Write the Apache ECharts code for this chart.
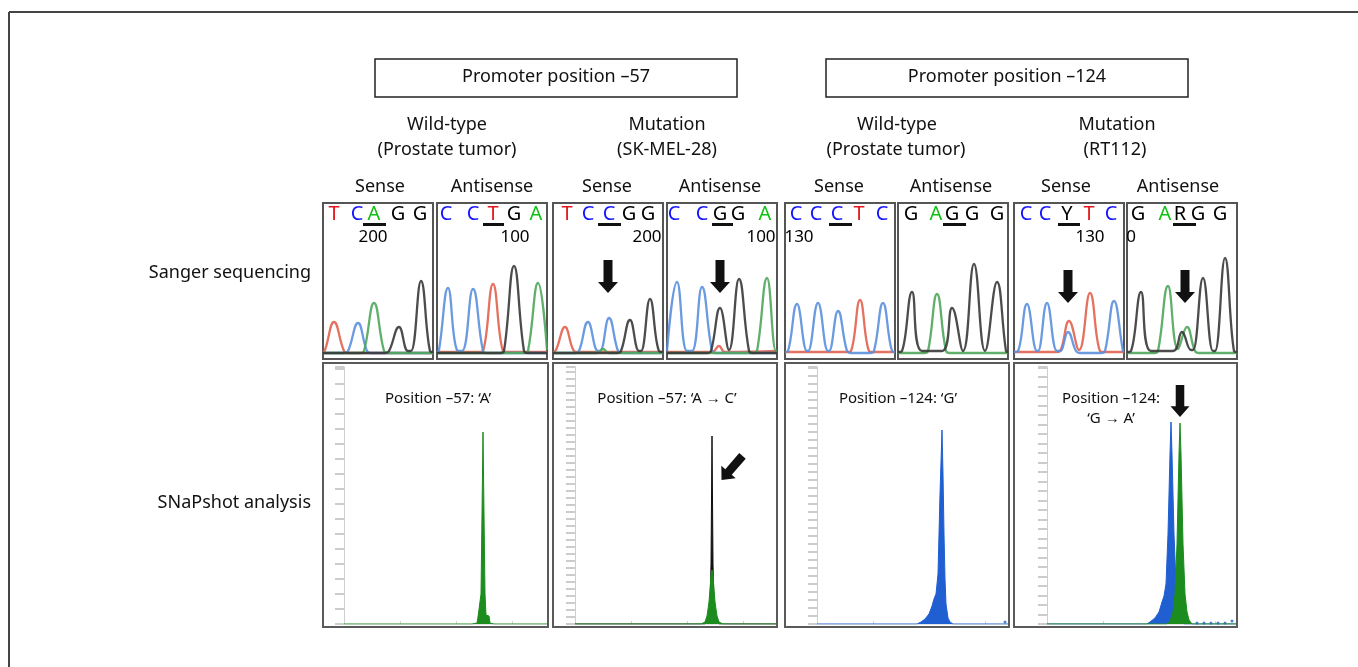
<!DOCTYPE html>
<html>
<head>
<meta charset="UTF-8">
<title>Promoter positions -57 / -124: Sanger and SNaPshot</title>
<script src="https://cdn.jsdelivr.net/npm/echarts@6/dist/echarts.min.js"></script>
<style>
html, body { margin: 0; padding: 0; background: #fff; }
#main { width: 1358px; height: 667px; }
</style>
</head>
<body>
<div id="main"></div>
<script>
// ---- Sanger panels (8, left to right): base calls and their positions
var baseCalls = [
  ['T','C','A','G','G'], ['C','C','T','G','A'],
  ['T','C','C','G','G'], ['C','C','G','G','A'],
  ['C','C','C','T','C'], ['G','A','G','G','G'],
  ['C','C','Y','T','C'], ['G','A','R','G','G']
];
var basePos = [
  [11,34,51,75,97], [9,36,56,77,99],
  [14,35,56,76,95], [7,35,53,71,98],
  [11,31,52,74,97], [13,38,54,74,99],
  [12,31,53,75,97], [11,38,53,71,93]
];
// underlined (queried) base: start / end of the bar
var underline = [[40,63],[46,67],[45,68],[45,66],[44,67],[45,68],[44,66],[46,69]];
// scale numbers printed by the sequencer software
var scaleText = ['200','100','200','100','130',null,'130','0'];
var scalePos  = [50, 78, 94, 94, 14, null, 76, 4];
// arrows marking the mutated base  [panel, x, y]
var sangerArrows = [[2,55,77.5],[3,53,77.5],[6,54,67.5],[7,58,67.5]];

// chromatogram traces per dye, one list of [x, intensity] per panel
var traceRed = [
  [[0,2],[2,4],[11,32],[21,3],[25,1],[110,1]],
  [[0,2],[42,2],[46,3],[56,70],[66,3],[70,2],[110,2]],
  [[0,2],[3,4],[12,27],[21,3],[25,2],[110,2]],
  [[0,2],[45,2],[52,8],[58,2],[110,3]],
  [[0,2],[62,2],[66,3],[75,54],[84,3],[88,2],[110,2]],
  null,
  [[0,2],[42,2],[46,3],[55,33],[65,4],[76,61],[86,3],[90,2],[110,2]],
  null
];
var traceBlue = [
  [[0,1],[21,1],[25,3],[35,31],[44,3],[48,1],[110,1]],
  [[0,2],[2,4],[11,66],[20,4],[25,3],[36,65],[46,3],[50,1],[110,1]],
  [[0,1],[22,1],[26,3],[35,32],[45,3],[47,3],[56,36],[65,3],[69,1],[110,1]],
  [[0,3],[10,72],[20,3],[25,3],[35,67],[45,3],[49,1],[110,1]],
  [[0,2],[3,3],[12,50],[22,3],[23,3],[33,51],[43,3],[44,3],[53,43],[62,3],[66,1],[85,1],[89,3],[98,51],[107,3],[110,2]],
  null,
  [[0,2],[4,3],[13,50],[23,3],[24,3],[33,51],[43,3],[46,3],[54,22],[62,3],[66,1],[87,1],[91,3],[100,53],[109,3],[110,2]],
  null
];
var traceGreen = [
  [[0,1],[37,1],[41,3],[51,51],[61,3],[65,1],[110,1]],
  [[0,1],[87,1],[91,3],[101,71],[110,4]],
  [[0,1],[44,1],[50,5],[56,1],[110,1]],
  [[0,1],[86,1],[90,3],[100,76],[109,3],[110,3]],
  null,
  [[0,1],[26,1],[30,3],[39,60],[48,3],[52,1],[110,1]],
  null,
  [[0,1],[27,1],[31,3],[41,68],[51,5],[60,27],[68,3],[72,1],[110,1]]
];
var traceBlack = [
  [[0,1],[62,1],[66,3],[76,27],[85,3],[88,3],[98,73],[107,3],[110,2]],
  [[0,1],[63,1],[67,3],[77,88],[87,3],[91,1],[110,1]],
  [[0,1],[64,1],[68,3],[77,34],[86,3],[88,3],[97,55],[106,3],[110,2]],
  [[0,1],[40,1],[44,3],[53,46],[62,4],[72,75],[82,3],[86,1],[110,1]],
  null,
  [[0,2],[4,3],[14,62],[24,3],[44,3],[54,46],[65,3],[76,90],[87,3],[99,72],[108,3],[110,2]],
  null,
  [[0,2],[4,3],[14,62],[24,3],[46,3],[55,22],[64,4],[66,4],[76,76],[86,3],[88,3],[98,96],[107,3],[110,2]]
];

// ---- SNaPshot panels (4): electropherogram peaks
var snapTitles = [['Position \u201357: \u2018A\u2019'], ['Position \u201357: \u2018A \u2192 C\u2019'],
                  ['Position \u2013124: \u2018G\u2019'], ['Position \u2013124:', '\u2018G \u2192 A\u2019']];
var snapGreen = [
  [[0,0],[128,0],[133,1],[134,7],[136,9],[137,30],[138,110],[139,192],[140,110],[141,30],[142,9],[145,8],[146,1],[150,0],[204,0]],
  [[0,0],[126,0],[130,2],[132,8],[134,22],[136,48],[137,54],[138,48],[140,22],[142,8],[144,2],[148,0],[202,0]],
  null,
  [[0,0],[120,0],[123,3],[126,12],[128,30],[130,80],[132,170],[133,201],[134,170],[136,80],[138,30],[140,12],[142,4],[145,0],[190,0]]
];
var snapBlack = [
  null,
  [[0,0],[130,0],[133,3],[135,15],[136,60],[137,188],[138,60],[139,15],[141,3],[144,0],[202,0]],
  null,
  null
];
var snapBlue = [
  null,
  null,
  [[0,0],[100,0],[104,2],[108,5],[112,10],[115,18],[117,25],[119,30],[121,50],[123,130],[125,194],[126,150],[127,90],[128,45],[129,20],[131,6],[133,2],[136,0],[192,0]],
  [[0,0],[100,0],[103,2],[108,6],[112,12],[115,22],[117,28],[119,40],[121,90],[123,170],[124,202],[125,170],[127,90],[129,40],[131,15],[134,4],[137,0],[190,0]]
];
var snapDots = [null, null, [[188,2]], [[150,1],[157,1],[164,1],[171,1],[178,1],[185,3]]];
// arrows  [panel, x, y, rotation]
var snapArrows = [[1,157,156,-41],[3,133,223,0]];

// ---- layout
var FONT = '"Noto Sans", "Open Sans", sans-serif';
var sangerLeft = [323,437,553,667,785,898,1014,1127];
var boxLeft = [323,553,785,1014], boxRight = [548,777,1009,1237];
var snapAxisX = [344,575,817,1047];
var snapTick = [15,7,8,9.5];
var letterColor = { T: '#e3161b', C: '#1414ff', A: '#12c012', G: '#000', Y: '#000', R: '#000' };
var dye = { red: '#e2624f', blue: '#5a8fdb', green: '#4fa65a', black: '#383838' };
var arrowPath = 'path://M5.5,0L14.5,0L14.5,22L20,22L10,33L0,22L5.5,22Z';

var grids = [], xAxes = [], yAxes = [], series = [];

function labelSeries(i, items, size) {
  return { type: 'scatter', xAxisIndex: i, yAxisIndex: i, symbolSize: 0, silent: true, z: 5,
    itemStyle: { color: '#000', opacity: 1 },
    data: items,
    label: { show: true, position: 'inside', formatter: function (p) { return p.name; },
             fontSize: size, fontFamily: FONT, color: '#000', textBorderWidth: 0, opacity: 1 } };
}

sangerLeft.forEach(function (left, i) {
  grids.push({ left: left, top: 203, width: 110, height: 156, show: true,
               borderColor: '#555', borderWidth: 2, backgroundColor: '#fff' });
  xAxes.push({ gridIndex: i, type: 'value', min: 0, max: 110, show: false });
  yAxes.push({ gridIndex: i, type: 'value', min: -5, max: 151, show: false });

  [[traceRed, dye.red], [traceBlue, dye.blue], [traceGreen, dye.green], [traceBlack, dye.black]].forEach(function (t) {
    if (!t[0][i]) return;
    series.push({ type: 'line', xAxisIndex: i, yAxisIndex: i, data: t[0][i], smooth: 0.45,
      symbol: 'none', silent: true, lineStyle: { color: t[1], width: 2.3, opacity: 0.9 } });
  });

  var arrows = sangerArrows.filter(function (a) { return a[0] === i; }).map(function (a) {
    return { coord: [a[1], a[2]] };
  });
  var letters = labelSeries(i, baseCalls[i].map(function (b, k) {
    return { value: [basePos[i][k], 140], name: b, label: { color: letterColor[b] } };
  }), 20);
  letters.markLine = { silent: true, symbol: ['none', 'none'], label: { show: false },
    lineStyle: { color: '#111', width: 3, type: 'solid' },
    data: [[{ coord: [underline[i][0], 130] }, { coord: [underline[i][1], 130] }]] };
  letters.markPoint = { silent: true, symbol: arrowPath, symbolSize: [20, 33], label: { show: false },
    itemStyle: { color: '#111' }, data: arrows };
  series.push(letters);
  if (scaleText[i]) {
    series.push(labelSeries(i, [{ value: [scalePos[i], 117], name: scaleText[i] }], 17));
  }
});

snapAxisX.forEach(function (ax, j) {
  var gi = 8 + j, w = boxRight[j] - ax;
  grids.push({ left: ax, top: 367, width: w, height: 257 });
  xAxes.push({ gridIndex: gi, type: 'value', position: 'top', min: 0, max: w, interval: 56,
    axisLine: { show: true, lineStyle: { color: '#e4e4e4' } },
    axisTick: { show: true, length: 3, lineStyle: { color: '#d0d0d0' } },
    axisLabel: { show: false }, splitLine: { show: false } });
  yAxes.push({ gridIndex: gi, type: 'value', min: 0, max: 257, interval: snapTick[j],
    axisLine: { show: true, lineStyle: { color: '#cfcfcf' } },
    axisTick: { show: true, length: 9, lineStyle: { color: '#cccccc', width: 2 } },
    axisLabel: { show: false }, splitLine: { show: false } });

  var arrows = snapArrows.filter(function (a) { return a[0] === j; }).map(function (a) {
    return { coord: [a[1], a[2]], symbolRotate: a[3] };
  });
  [[snapBlack, '#111', 3], [snapBlue, '#1f5fd1', 3], [snapGreen, '#1c8c1f', 4]].forEach(function (s) {
    if (!s[0][j]) return;
    series.push({ type: 'line', xAxisIndex: gi, yAxisIndex: gi, data: s[0][j], symbol: 'none',
      silent: true, z: s[2], lineStyle: { color: s[1], width: 1 }, areaStyle: { color: s[1], opacity: 1 } });
  });
  if (snapDots[j]) {
    series.push({ type: 'scatter', xAxisIndex: gi, yAxisIndex: gi, data: snapDots[j], symbolSize: 3,
      silent: true, itemStyle: { color: '#1f5fd1' } });
  }
  if (arrows.length) {
    series.push({ type: 'scatter', xAxisIndex: gi, yAxisIndex: gi, data: [], silent: true,
      markPoint: { silent: true, symbol: arrowPath, symbolSize: [19, 32], label: { show: false },
        itemStyle: { color: '#111' }, data: arrows } });
  }
});

// ---- text and frames
function txt(s, x, y, size, align) {
  return { type: 'text', x: x, y: y, silent: true, z: 10,
    style: { text: s, font: size + 'px ' + FONT, fill: '#111', textAlign: align || 'center', textVerticalAlign: 'middle' } };
}
var graphics = [
  { type: 'line', silent: true, shape: { x1: 9, y1: 12, x2: 1358, y2: 12 }, style: { stroke: '#444', lineWidth: 2 } },
  { type: 'line', silent: true, shape: { x1: 9, y1: 12, x2: 9, y2: 667 }, style: { stroke: '#444', lineWidth: 2 } },
  { type: 'rect', silent: true, shape: { x: 375, y: 59, width: 362, height: 38 }, style: { fill: 'none', stroke: '#222', lineWidth: 1.5 } },
  { type: 'rect', silent: true, shape: { x: 826, y: 59, width: 362, height: 38 }, style: { fill: 'none', stroke: '#222', lineWidth: 1.5 } },
  txt('Promoter position \u201357', 556, 77, 18),
  txt('Promoter position \u2013124', 1007, 77, 18),
  txt('Wild-type', 447, 125, 18), txt('(Prostate tumor)', 447, 150, 18),
  txt('Mutation', 667, 125, 18), txt('(SK-MEL-28)', 667, 150, 18),
  txt('Wild-type', 897, 125, 18), txt('(Prostate tumor)', 896, 150, 18),
  txt('Mutation', 1117, 125, 18), txt('(RT112)', 1115, 150, 18),
  txt('Sanger sequencing', 311, 273, 18, 'right'),
  txt('SNaPshot analysis', 311, 503, 18, 'right')
];
[380, 607, 839, 1066].forEach(function (x) { graphics.push(txt('Sense', x, 187, 18)); });
[492, 720, 951, 1178].forEach(function (x) { graphics.push(txt('Antisense', x, 187, 18)); });
boxLeft.forEach(function (l, j) {
  graphics.push({ type: 'rect', silent: true, z: 9, shape: { x: l, y: 363, width: boxRight[j] - l, height: 264 },
    style: { fill: 'none', stroke: '#5a5a5a', lineWidth: 2 } });
  var cx = [438, 667, 898, 1111][j];
  snapTitles[j].forEach(function (line, k) { graphics.push(txt(line, cx, 399 + k * 20, 15)); });
});

var myChart = echarts.init(document.getElementById('main'));
myChart.setOption({
  animation: false,
  backgroundColor: '#fff',
  grid: grids,
  xAxis: xAxes,
  yAxis: yAxes,
  series: series,
  graphic: { elements: graphics }
});
</script>
</body>
</html>
